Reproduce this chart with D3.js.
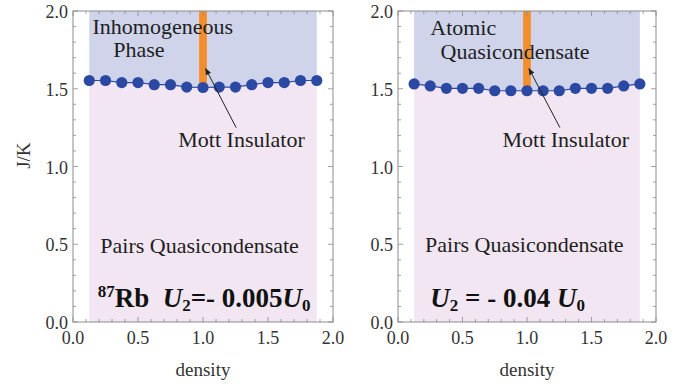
<!DOCTYPE html>
<html>
<head>
<meta charset="utf-8">
<script src="https://cdn.jsdelivr.net/npm/d3@7"></script>
<style>
  html, body { margin: 0; padding: 0; background: #fff; }
  svg { display: block; }
</style>
</head>
<body>
<svg id="chart" width="685" height="388"></svg>
<script>
// Phase diagram J/K vs density, two panels (87Rb and U2 = -0.04 U0).

const density = [0.125, 0.25, 0.375, 0.5, 0.625, 0.75, 0.875, 1.0, 1.125, 1.25, 1.375, 1.5, 1.625, 1.75, 1.875];
const jkLeft  = [1.553, 1.553, 1.540, 1.540, 1.526, 1.526, 1.511, 1.508, 1.511, 1.511, 1.526, 1.540, 1.540, 1.553, 1.553];
const jkRight = [1.531, 1.518, 1.503, 1.503, 1.503, 1.487, 1.487, 1.487, 1.487, 1.487, 1.503, 1.503, 1.503, 1.518, 1.531];
const majorTicks = [0, 0.5, 1.0, 1.5, 2.0];
const tickLabels = ['0.0', '0.5', '1.0', '1.5', '2.0'];
const minorTicks = d3.range(0, 2.0001, 0.1);
const mottDensity = 1.0;

const FONT = '"Liberation Serif", "Times New Roman", serif';
const BLUE_FILL = '#cfd4ea';
const PINK_FILL = '#f1e6f1';
const DOT = '#2b48a3';
const ORANGE = '#f28f2c';
const FRAME = '#8c8c8c';

const svg = d3.select('#chart');

const panels = [
  {
    x0: 73, x1: 333, values: jkLeft, yLabel: true,
    phase: [['Inhomogeneous', 0.15, 1.852], ['Phase', 0.31, 1.704]],
    mott: [0.81, 1.125], arrowFrom: [1.255, 1.25], arrowTo: [1.02, 1.63],
    pairs: [0.21, 0.445],
    formula: { x: 0.19, y: 0.096, kind: 'rb' },
  },
  {
    x0: 398, x1: 656, values: jkRight, yLabel: false,
    phase: [['Atomic', 0.25, 1.846], ['Quasicondensate', 0.33, 1.691]],
    mott: [0.81, 1.125], arrowFrom: [1.255, 1.25], arrowTo: [1.015, 1.63],
    pairs: [0.21, 0.45],
    formula: { x: 0.25, y: 0.096, kind: 'u2' },
  },
];

const defs = svg.append('defs');
defs.append('marker')
  .attr('id', 'arrowhead')
  .attr('viewBox', '0 -5 10 10')
  .attr('refX', 9).attr('refY', 0)
  .attr('markerWidth', 7).attr('markerHeight', 7)
  .attr('markerUnits', 'userSpaceOnUse')
  .attr('orient', 'auto')
  .append('path')
  .attr('d', 'M0,-4L10,0L0,4Z')
  .attr('fill', '#222');

panels.forEach((p, pi) => {
  const x = d3.scaleLinear().domain([0, 2]).range([p.x0, p.x1]);
  const y = d3.scaleLinear().domain([0, 2]).range([322, 11]);
  const g = svg.append('g');
  const pts = density.map((d, i) => [d, p.values[i]]);

  // shaded regions above / below the transition line
  g.append('path')
    .datum(pts)
    .attr('fill', BLUE_FILL)
    .attr('d', d3.area().x(d => x(d[0])).y0(y(2)).y1(d => y(d[1])));
  g.append('path')
    .datum(pts)
    .attr('fill', PINK_FILL)
    .attr('d', d3.area().x(d => x(d[0])).y0(y(0)).y1(d => y(d[1])));

  // Mott insulator bar
  const iMott = density.indexOf(mottDensity);
  g.append('rect')
    .attr('x', x(mottDensity - 0.03))
    .attr('width', x(mottDensity + 0.03) - x(mottDensity - 0.03))
    .attr('y', y(2))
    .attr('height', y(p.values[iMott]) - y(2))
    .attr('fill', ORANGE);

  // frame and ticks
  g.append('rect')
    .attr('x', x(0)).attr('y', y(2))
    .attr('width', x(2) - x(0)).attr('height', y(0) - y(2))
    .attr('fill', 'none').attr('stroke', FRAME).attr('stroke-width', 1);

  const ticks = g.append('g').attr('stroke', FRAME).attr('stroke-width', 0.8);
  minorTicks.forEach(t => {
    const major = majorTicks.some(m => Math.abs(m - t) < 1e-6);
    const len = major ? 5 : 3;
    ticks.append('line').attr('x1', x(t)).attr('x2', x(t)).attr('y1', y(0)).attr('y2', y(0) - len);
    ticks.append('line').attr('x1', x(t)).attr('x2', x(t)).attr('y1', y(2)).attr('y2', y(2) + len);
    ticks.append('line').attr('y1', y(t)).attr('y2', y(t)).attr('x1', x(0)).attr('x2', x(0) + len);
    ticks.append('line').attr('y1', y(t)).attr('y2', y(t)).attr('x1', x(2)).attr('x2', x(2) - len);
  });

  // tick labels
  const labelStyle = sel => sel
    .attr('font-family', FONT).attr('font-size', 18).attr('fill', '#333');
  g.selectAll('.xl').data(majorTicks).join('text')
    .attr('x', d => x(d)).attr('y', y(0) + 22)
    .attr('text-anchor', 'middle')
    .call(labelStyle)
    .text((d, i) => tickLabels[i]);
  g.selectAll('.yl').data(majorTicks).join('text')
    .attr('x', x(0) - 5).attr('y', d => y(d) + 7)
    .attr('text-anchor', 'end')
    .call(labelStyle)
    .text((d, i) => tickLabels[i]);

  g.append('text')
    .attr('x', x(1)).attr('y', 376)
    .attr('text-anchor', 'middle')
    .attr('font-family', FONT).attr('font-size', 19).attr('fill', '#333')
    .text('density');
  if (p.yLabel) {
    g.append('text')
      .attr('transform', `translate(30,${y(1.07)}) rotate(-90)`)
      .attr('text-anchor', 'middle')
      .attr('font-family', FONT).attr('font-size', 19).attr('fill', '#333')
      .text('J/K');
  }

  // connecting line + points
  g.append('path')
    .datum(pts)
    .attr('fill', 'none').attr('stroke', DOT).attr('stroke-width', 1.2)
    .attr('d', d3.line().x(d => x(d[0])).y(d => y(d[1])));
  g.selectAll('circle').data(pts).join('circle')
    .attr('cx', d => x(d[0])).attr('cy', d => y(d[1]))
    .attr('r', 5.6).attr('fill', DOT);

  // annotations
  const txt = (s, dx, dy) => g.append('text')
    .attr('x', x(dx)).attr('y', y(dy))
    .attr('font-family', FONT).attr('font-size', 22).attr('fill', '#1e1e1e')
    .text(s);
  p.phase.forEach(([s, dx, dy]) => txt(s, dx, dy));
  txt('Mott Insulator', p.mott[0], p.mott[1]);
  txt('Pairs Quasicondensate', p.pairs[0], p.pairs[1]);

  g.append('line')
    .attr('x1', x(p.arrowFrom[0])).attr('y1', y(p.arrowFrom[1]))
    .attr('x2', x(p.arrowTo[0])).attr('y2', y(p.arrowTo[1]))
    .attr('stroke', '#222').attr('stroke-width', 1)
    .attr('marker-end', 'url(#arrowhead)');

  const f = g.append('text')
    .attr('x', x(p.formula.x)).attr('y', y(p.formula.y))
    .attr('font-family', FONT).attr('font-size', 27).attr('font-weight', 'bold')
    .attr('fill', '#111');
  if (p.formula.kind === 'rb') {
    f.append('tspan').attr('font-size', 17).attr('dy', -10).text('87');
    f.append('tspan').attr('dy', 10).text('Rb\u00a0\u00a0');
    f.append('tspan').attr('font-style', 'italic').text('U');
    f.append('tspan').attr('font-size', 17).attr('dy', 4).text('2');
    f.append('tspan').attr('dy', -4).text('=- 0.005');
    f.append('tspan').attr('font-style', 'italic').text('U');
    f.append('tspan').attr('font-size', 17).attr('dy', 4).text('0');
  } else {
    f.append('tspan').attr('font-style', 'italic').text('U');
    f.append('tspan').attr('font-size', 17).attr('dy', 4).text('2');
    f.append('tspan').attr('dy', -4).text(' = - 0.04 ');
    f.append('tspan').attr('font-style', 'italic').text('U');
    f.append('tspan').attr('font-size', 17).attr('dy', 4).text('0');
  }
});
</script>
</body>
</html>
